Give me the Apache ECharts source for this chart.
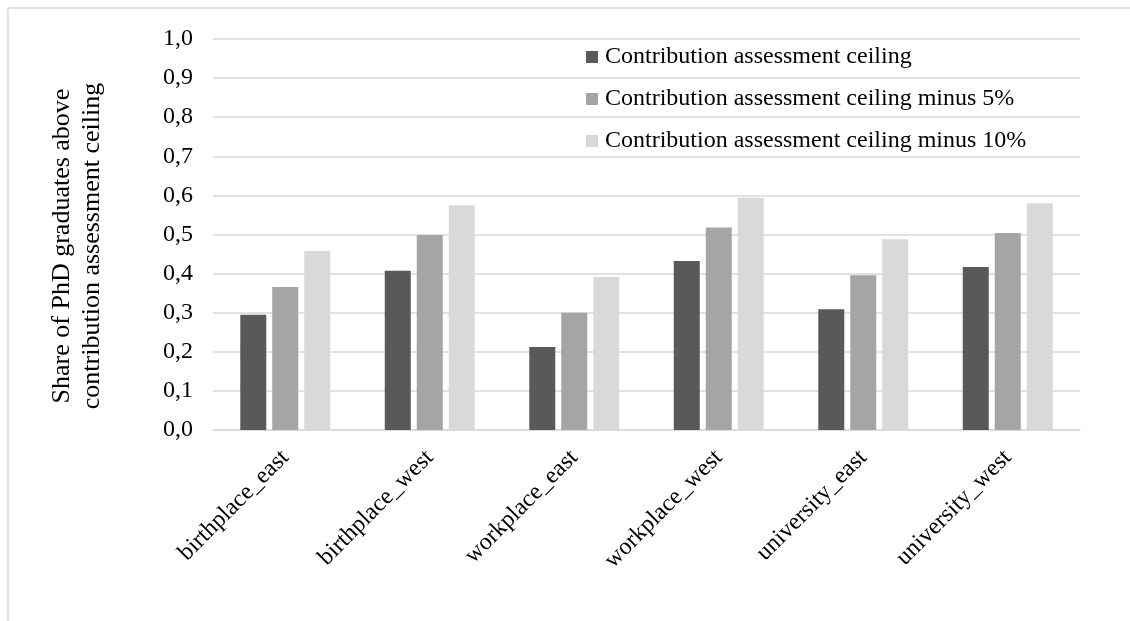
<!DOCTYPE html>
<html>
<head>
<meta charset="utf-8">
<script src="https://cdn.jsdelivr.net/npm/echarts@6/dist/echarts.min.js"></script>
<style>
  html, body { margin: 0; padding: 0; background: #fff; }
  #chart { width: 1130px; height: 621px; }
</style>
</head>
<body>
<div id="chart"></div>
<script>
// Categories and series values
var categories = ['birthplace_east', 'birthplace_west', 'workplace_east', 'workplace_west', 'university_east', 'university_west'];
var seriesNames = [
  'Contribution assessment ceiling',
  'Contribution assessment ceiling minus 5%',
  'Contribution assessment ceiling minus 10%'
];
var ceiling = [0.295, 0.407, 0.212, 0.432, 0.309, 0.417];
var ceilingMinus5 = [0.366, 0.499, 0.300, 0.518, 0.396, 0.504];
var ceilingMinus10 = [0.458, 0.575, 0.391, 0.594, 0.488, 0.580];
var yTicks = [0, 0.1, 0.2, 0.3, 0.4, 0.5, 0.6, 0.7, 0.8, 0.9, 1.0];
var yTitleLines = ['Share of PhD graduates above', 'contribution assessment ceiling'];

var FONT = '"Liberation Serif", "Times New Roman", serif';
var colors = ['#595959', '#a5a5a5', '#d9d9d9'];
var values = [ceiling, ceilingMinus5, ceilingMinus10];

var chart = echarts.init(document.getElementById('chart'), null, { renderer: 'canvas' });

chart.setOption({
  animation: false,
  backgroundColor: '#fff',
  color: colors,
  textStyle: { fontFamily: FONT },
  grid: { left: 213, right: 50, top: 39, bottom: 191, containLabel: false },
  legend: {
    orient: 'vertical',
    left: 581,
    top: 40,
    itemWidth: 12,
    itemHeight: 12,
    itemGap: 18,
    icon: 'rect',
    textStyle: { fontFamily: FONT, fontSize: 24, color: '#000', lineHeight: 24, padding: [0, 0, 0, 2] },
    data: seriesNames
  },
  xAxis: {
    type: 'category',
    data: categories,
    axisLine: { show: true, lineStyle: { color: '#d9d9d9', width: 1.5 } },
    axisTick: { show: false },
    axisLabel: {
      rotate: 45,
      margin: 24,
      fontFamily: FONT,
      fontSize: 24,
      color: '#000',
      interval: 0
    }
  },
  yAxis: {
    type: 'value',
    min: yTicks[0],
    max: yTicks[yTicks.length - 1],
    interval: 0.1,
    axisLine: { show: false },
    axisTick: { show: false },
    splitLine: { lineStyle: { color: '#d9d9d9', width: 1.5 } },
    axisLabel: {
      margin: 20,
      fontFamily: FONT,
      fontSize: 24,
      color: '#000',
      formatter: function (v) { return v.toFixed(1).replace('.', ','); }
    }
  },
  series: seriesNames.map(function (name, i) {
    return {
      name: name,
      type: 'bar',
      data: values[i],
      barWidth: 26,
      barGap: '23%',
      itemStyle: { color: colors[i] }
    };
  }),
  graphic: [
    // outer frame: top and left edges
    { type: 'line', shape: { x1: 8, y1: 8, x2: 1130, y2: 8 }, style: { stroke: '#d9d9d9', lineWidth: 1.5 } },
    { type: 'line', shape: { x1: 8, y1: 8, x2: 8, y2: 621 }, style: { stroke: '#d9d9d9', lineWidth: 1.5 } },
    // y axis title
    {
      type: 'text',
      x: 77,
      y: 246,
      rotation: Math.PI / 2,
      style: {
        text: yTitleLines.join('\n'),
        fontFamily: FONT,
        fontSize: 26,
        lineHeight: 30,
        fill: '#000',
        align: 'center',
        verticalAlign: 'middle'
      }
    }
  ]
});
</script>
</body>
</html>
